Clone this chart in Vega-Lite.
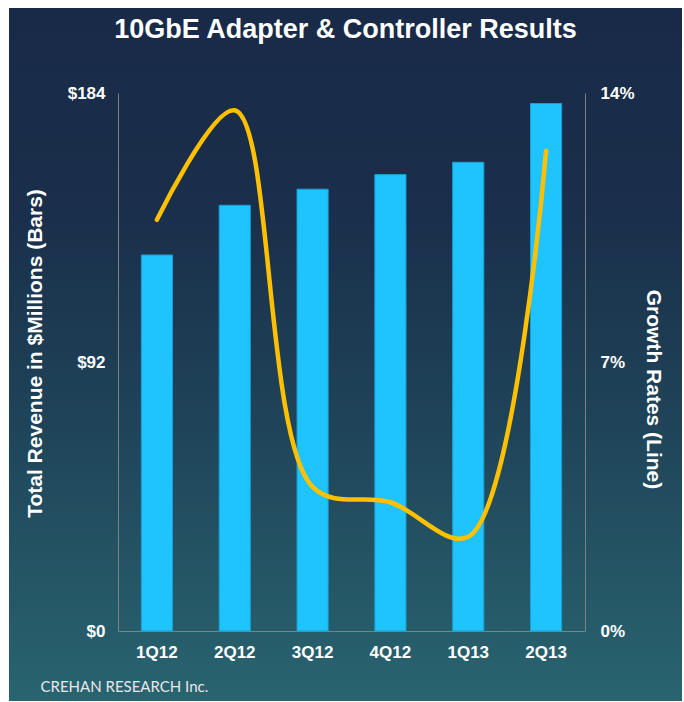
{
  "$schema": "https://vega.github.io/schema/vega-lite/v6.json",
  "width": 673,
  "height": 693,
  "autosize": "none",
  "padding": {"left": 9, "top": 8, "right": 2, "bottom": 1},
  "background": "white",
  "view": {
    "stroke": null,
    "fill": {
      "gradient": "linear",
      "x1": 0, "y1": 0, "x2": 0, "y2": 1,
      "stops": [
        {"offset": 0, "color": "#182a47"},
        {"offset": 0.3, "color": "#1a2f4b"},
        {"offset": 0.6, "color": "#1f4459"},
        {"offset": 1, "color": "#296470"}
      ]
    }
  },
  "title": {
    "text": "10GbE Adapter & Controller Results",
    "font": "Liberation Sans",
    "fontSize": 27,
    "fontWeight": "bold",
    "color": "white",
    "anchor": "middle",
    "frame": "group",
    "offset": -36
  },
  "data": {
    "values": [
      {"quarter": "1Q12", "revenue": 128.6, "growth": 10.7},
      {"quarter": "2Q12", "revenue": 145.6, "growth": 13.55},
      {"quarter": "3Q12", "revenue": 151.1, "growth": 3.75},
      {"quarter": "4Q12", "revenue": 156.1, "growth": 3.35},
      {"quarter": "1Q13", "revenue": 160.3, "growth": 2.45},
      {"quarter": "2Q13", "revenue": 180.4, "growth": 12.5}
    ]
  },
  "encoding": {
    "x": {
      "field": "quarter",
      "type": "nominal",
      "sort": null,
      "scale": {"range": [109, 576], "paddingInner": 0.6, "paddingOuter": 0.3},
      "axis": {
        "title": "CREHAN RESEARCH Inc.",
        "labelAngle": 0,
        "offset": -70,
        "labelPadding": 13,
        "titleX": 31,
        "titleY": 60,
        "titleAlign": "left",
        "titleAnchor": "start",
        "titleBaseline": "alphabetic",
        "titleFont": "Lato",
        "titleFontWeight": "normal",
        "titleFontSize": 15,
        "titleColor": "#e8e8e8"
      }
    }
  },
  "layer": [
    {
      "mark": {"type": "bar", "color": "#1fc4ff", "stroke": "#1a9fd4", "strokeWidth": 1},
      "encoding": {
        "y": {
          "field": "revenue",
          "type": "quantitative",
          "scale": {"domain": [0, 184], "range": [623, 85], "nice": false, "zero": true},
          "axis": {
            "orient": "left",
            "offset": -109,
            "values": [0, 92, 184],
            "labelExpr": "'$' + datum.value",
            "labelPadding": 13,
            "title": "Total Revenue in $Millions (Bars)",
            "titleFontSize": 21,
            "titlePadding": 22,
            "titleY": 345
          }
        }
      }
    },
    {
      "mark": {"type": "line", "color": "#ffc000", "strokeWidth": 4.5, "strokeCap": "round", "interpolate": "catmull-rom"},
      "encoding": {
        "y": {
          "field": "growth",
          "type": "quantitative",
          "scale": {"domain": [0, 14], "range": [623, 85], "nice": false, "zero": true},
          "axis": {
            "orient": "right",
            "offset": -97,
            "values": [0, 7, 14],
            "labelExpr": "datum.value + '%'",
            "labelPadding": 15,
            "title": "Growth Rates (Line)",
            "titleFontSize": 21,
            "titlePadding": 8,
            "titleY": 381
          }
        }
      }
    }
  ],
  "resolve": {"scale": {"y": "independent"}},
  "config": {
    "axis": {
      "domainColor": "#808080",
      "domainWidth": 1,
      "ticks": false,
      "grid": false,
      "labelColor": "white",
      "labelFont": "Liberation Sans",
      "labelFontWeight": "bold",
      "labelFontSize": 17,
      "titleColor": "white",
      "titleFont": "Liberation Sans",
      "titleFontWeight": "bold"
    }
  }
}
